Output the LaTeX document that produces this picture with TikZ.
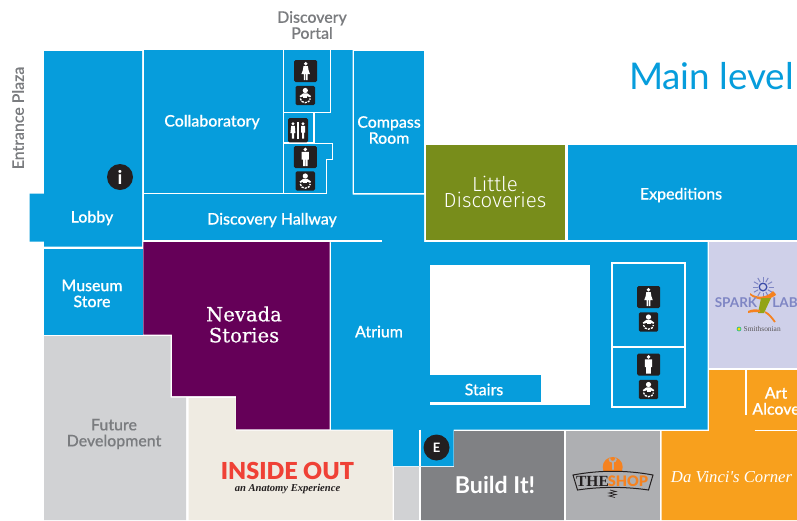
\documentclass[tikz,border=0pt]{standalone}
\usepackage{fontspec}
\setmainfont{Lato}
\newfontfamily\labelf[FakeBold=0.3]{Lato Medium}
\newfontfamily\boldf{Lato Bold}
\newfontfamily\blackf{Lato Black}
\newfontfamily\thinf{Fira Sans Light}
\newfontfamily\slabf[FakeBold=0.6]{DejaVu Serif}
\newfontfamily\serff{Liberation Serif}
\definecolor{mblue}{HTML}{069DDC}
\definecolor{mgreen}{HTML}{788D1B}
\definecolor{mpurple}{HTML}{650058}
\definecolor{mlilac}{HTML}{CFD0E9}
\definecolor{morange}{HTML}{F8A01D}
\definecolor{mgrayd}{HTML}{808184}
\definecolor{mgraym}{HTML}{AEAFB2}
\definecolor{mgrayl}{HTML}{D1D2D4}
\definecolor{mcream}{HTML}{EFEBE2}
\definecolor{mtext}{HTML}{7A7C7F}
\definecolor{mdark}{HTML}{231F20}
\definecolor{mred}{HTML}{EF4136}
\definecolor{mspark}{HTML}{7F86C4}
\definecolor{mring}{HTML}{3B4CA8}
\definecolor{mswoosh}{HTML}{F58220}
\tikzset{
  x=1pt,y=-1pt,
  room/.style={fill=#1,draw=none},
  wline/.style={draw=white,line width=1.4pt},
  lbl/.style={text=white,inner sep=0pt,align=center,font=\labelf\fontsize{15.9}{16}\selectfont},
  glbl/.style={lbl,text=mtext},
  tile/.style={fill=mdark,rounded corners=1.5pt,draw=none},
  pics/womanicon/.style={code={
    \fill[tile] (-11.5,-11) rectangle (11.5,11);
    \fill[white] (0,-7.3) circle (1.9);
    \fill[white] (-2.2,-5) -- (2.2,-5) -- (2.8,-1) -- (4.3,3.2) -- (1.9,3.2) -- (1.9,9) -- (0.3,9) -- (0.3,3.2) -- (-0.3,3.2) -- (-0.3,9) -- (-1.9,9) -- (-1.9,3.2) -- (-4.3,3.2) -- (-2.8,-1) -- cycle;
  }},
  pics/manicon/.style={code={
    \fill[tile] (-11.5,-11) rectangle (11.5,11);
    \fill[white] (0,-7.6) circle (1.9);
    \fill[white] (-3.6,-5.2) -- (3.6,-5.2) -- (3.6,2.5) -- (2.3,2.5) -- (2.3,9) -- (0.2,9) -- (0.2,2.5) -- (-0.2,2.5) -- (-0.2,9) -- (-2.3,9) -- (-2.3,2.5) -- (-3.6,2.5) -- cycle;
  }},
  pics/babyicon/.style={code={
    \fill[tile] (-9.7,-9.7) rectangle (9.7,9.7);
    \fill[white] (0,-5) circle (2.6);
    \fill[white] (-5.8,0.6) -- (-2,-2.2) -- (2,-2.2) -- (5.8,0.6) -- (4.8,1.8) -- (2,0.8) -- (-2,0.8) -- (-4.8,1.8) -- cycle;
    \fill[white] (-2,0.8) -- (2,0.8) -- (2,2.4) -- (-2,2.4) -- cycle;
    \draw[white,line width=1.3pt,dash pattern=on 2.2pt off 1pt] (-5,3) arc[start angle=180,end angle=0,x radius=5,y radius=4.2];
  }},
  pics/coupleicon/.style={code={
    \fill[tile] (-10,-12.2) rectangle (10,12.2);
    \fill[white] (-5,-6.4) circle (1.6);
    \fill[white] (5,-6.4) circle (1.6);
    \fill[white] (-6.8,-4.4) -- (-3.2,-4.4) -- (-2.6,3) -- (-3.8,3) -- (-3.8,8.5) -- (-6.2,8.5) -- (-6.2,3) -- (-7.6,3) -- cycle;
    \fill[white] (3,-4.4) -- (7,-4.4) -- (7,2.5) -- (6,2.5) -- (6,8.5) -- (4,8.5) -- (4,2.5) -- (3,2.5) -- cycle;
    \fill[white] (-0.6,-8.5) rectangle (0.6,9);
  }},
}
\begin{document}
\begin{tikzpicture}
\useasboundingbox (0,0) rectangle (797,520);
\fill[white] (0,0) rectangle (797,520);

% blue rooms
\fill[room=mblue] (44,51) -- (142,51) -- (142,246.5) -- (44,246.5) -- (44,241.5) -- (29.5,241.5) -- (29.5,193.5) -- (44,193.5) -- cycle;
\fill[room=mblue] (44,249) rectangle (142.5,335);
\fill[room=mblue] (144,50) -- (352.5,50) -- (352.5,194.5) -- (424,194.5) -- (424,242) -- (707.5,242) -- (707.5,429.5) -- (453.5,429.5) -- (453.5,466) -- (393,466) -- (393,429.5) -- (331,429.5) -- (331,242) -- (144,242) -- cycle;
\fill[room=mblue] (353.8,51) rectangle (424,193);
\fill[room=mblue] (568,145) rectangle (797,240);

% coloured rooms
\fill[room=mgreen] (426,145) rectangle (565,240);
\fill[room=mpurple] (143.3,242) -- (329.7,242) -- (329.7,429.3) -- (236,429.3) -- (236,396) -- (172,396) -- (172,334.7) -- (143.3,334.7) -- cycle;
\fill[room=mgrayl] (44,336) -- (170.7,336) -- (170.7,397.5) -- (186,397.5) -- (186,520) -- (44,520) -- cycle;
\fill[room=mcream] (188.7,398) -- (235.7,398) -- (235.7,430.7) -- (392.7,430.7) -- (392.7,520) -- (188.7,520) -- cycle;
\fill[room=mgrayl] (393.5,467) rectangle (419.3,520);
\fill[room=mgrayd] (421,467) -- (454,467) -- (454,431) -- (563.8,431) -- (563.8,520) -- (421,520) -- cycle;
\fill[room=mgraym] (566,431) rectangle (660,520);
\fill[room=morange] (709,370) -- (797,370) -- (797,520) -- (661.5,520) -- (661.5,431) -- (709,431) -- cycle;
\fill[room=mlilac] (709,242) rectangle (797,368);

% stairs void
\fill[white] (430,264.7) rectangle (590,404.5);
\fill[room=mblue] (430,375) rectangle (541,402);

% white partition lines
\draw[wline] (144,193.5) -- (326.7,193.5);
\draw[wline] (144,241) -- (382,241);
\draw[wline] (283.5,50) -- (283.5,193.5);
\draw[wline] (330.7,50) -- (330.7,112.5) -- (283.5,112.5);
\draw[wline] (314,112.5) -- (314,142.3) -- (283.5,142.3);
\draw[wline] (283.5,143.6) -- (332.7,143.6) -- (332.7,159.3) -- (326.7,159.3) -- (326.7,193.5);
\draw[wline] (420,429.5) -- (420,466);
\draw[wline] (746,370) -- (746,415);
\draw[wline] (754.5,430.3) -- (797,430.3);
\draw[draw=white,line width=2pt] (612,263) rectangle (685,407);
\draw[draw=white,line width=2pt] (612,346.5) -- (685,346.5);

% restroom icons
\pic (w1) at (305.7,71) {womanicon};
\pic (b1) at (305.3,95.5) {babyicon};
\pic (c1) at (298,130.2) {coupleicon};
\pic (m1) at (305.3,157) {manicon};
\pic (b2) at (305.3,181) {babyicon};
\pic (w2) at (648.5,297) {womanicon};
\pic (b3) at (648.5,322) {babyicon};
\pic (m2) at (648.5,364.5) {manicon};
\pic (b4) at (648.5,389.5) {babyicon};

% badges
\node[circle,fill=mdark,minimum size=26pt,inner sep=0pt,text=white,font=\boldf\fontsize{19}{19}\selectfont] (info) at (120,177) {i};
\node[circle,fill=mdark,minimum size=26pt,inner sep=0pt,text=white,font=\boldf\fontsize{13}{13}\selectfont] (exit) at (436.5,447.5) {E};

% labels
\node[glbl] (portal) at (312,25) {Discovery\\Portal};
\node[glbl,rotate=90] (plaza) at (18,118) {Entrance Plaza};
\node[lbl] (collab) at (212,122) {Collaboratory};
\node[lbl] (compass) at (389,130) {Compass\\Room};
\node[lbl] (lobby) at (92,218) {Lobby};
\node[lbl] (hallway) at (272,220) {Discovery Hallway};
\node[lbl] (expeditions) at (681,195) {Expeditions};
\node[lbl] (museum) at (92,293.5) {Museum\\Store};
\node[lbl] (atrium) at (379,331.5) {Atrium};
\node[lbl] (stairs) at (484,389.5) {Stairs};
\node[glbl] (future) at (114,434) {Future\\Development};
\node[lbl] (alcove) at (776,401) {Art\\Alcove};
\node[inner sep=0pt,text=mblue,font=\fontsize{36.8}{36}\selectfont] (main) at (711.5,76) {Main level};
\node[inner sep=0pt,text=white,align=center,font=\thinf\fontsize{20.4}{16}\selectfont] (little) at (495,192) {Little\\Discoveries};
\node[inner sep=0pt,text=white,align=center,font=\slabf\fontsize{19.6}{21}\selectfont] (nevada) at (244,324.5) {Nevada\\Stories};
\node[inner sep=0pt,text=mred,font=\blackf\fontsize{23.4}{25}\selectfont] (inside) at (287.5,471) {INSIDE OUT};
\node[inner sep=0pt,text=mdark,font=\serff\bfseries\itshape\fontsize{10.6}{10}\selectfont] (anatomy) at (287.5,489) {an Anatomy Experience};
\node[inner sep=0pt,text=white,font=\boldf\fontsize{23.2}{21}\selectfont] (build) at (495,484.5) {Build It!};
\node[inner sep=0pt,text=white,font=\serff\itshape\fontsize{16.7}{17}\selectfont] (davinci) at (731.5,477) {Da Vinci's Corner};

% Spark Lab logo
\foreach \a in {0,30,...,330} \draw[mspark,line width=1pt] (763,287) ++(\a:5.5) -- ++(\a:5);
\draw[mring,line width=1.3pt] (763,287) circle (3.8);
\fill[mswoosh] (750,293) .. controls (757,299) and (768,297) .. (773,291) .. controls (775,293) and (776,294) .. (776,295) .. controls (768,301) and (757,301) .. (750,295) -- cycle;
\fill[mgreen!80!yellow] (761,298) -- (771,298) -- (764,313) -- (758,313) -- cycle;
\fill[mswoosh] (748,311) .. controls (752,309) and (756,309) .. (760,310) -- (760,312) .. controls (756,312) and (752,312) .. (748,313) -- cycle;
\draw[mswoosh,line width=1.8pt] (765,312) .. controls (769,314) and (772,318) .. (775,322);
\node[inner sep=0pt,text=mspark,font=\boldf\fontsize{13.5}{13}\selectfont] (spark) at (736,303) {SPARK};
\node[inner sep=0pt,text=mspark,font=\boldf\fontsize{13.5}{13}\selectfont] (lab) at (785,303) {LAB};
\fill[yellow!80!orange,draw=mblue!70!green,line width=0.6pt] (739,329) circle (2);
\node[inner sep=0pt,anchor=west,text=mdark!75,font=\serff\fontsize{7.4}{7}\selectfont] (smith) at (743.5,329) {Smithsonian};

% The Shop logo
\fill[mswoosh] (612.7,467) circle (10);
\draw[mgraym,line width=2pt,line cap=round] (612.7,469) -- (612.7,462);
\draw[mgraym,line width=1.8pt] (609.3,458.5) arc[start angle=180,end angle=0,radius=3.4];
\fill[mgraym] (573,475) .. controls (600,470) and (626,470) .. (653,475) -- (648.5,490) .. controls (625,486.5) and (601,486.5) .. (577.5,490) -- cycle;
\draw[mdark,line width=1pt] (573,475) .. controls (600,470) and (626,470) .. (653,475) -- (648.5,490) .. controls (625,486.5) and (601,486.5) .. (577.5,490) -- cycle;
\node[inner sep=0pt,text=mdark,font=\serff\bfseries\fontsize{15.5}{15}\selectfont] (the) at (592.5,481) {THE};
\node[inner sep=0pt,text=mswoosh,font=\blackf\fontsize{14.5}{15}\selectfont] (shop) at (628,481) {SHOP};
\draw[mdark,line width=0.7pt] (610,490) -- (616,491.5) -- (609,493) -- (616,494.5) -- (609,496) -- (615,497.5);
\end{tikzpicture}
\end{document}
